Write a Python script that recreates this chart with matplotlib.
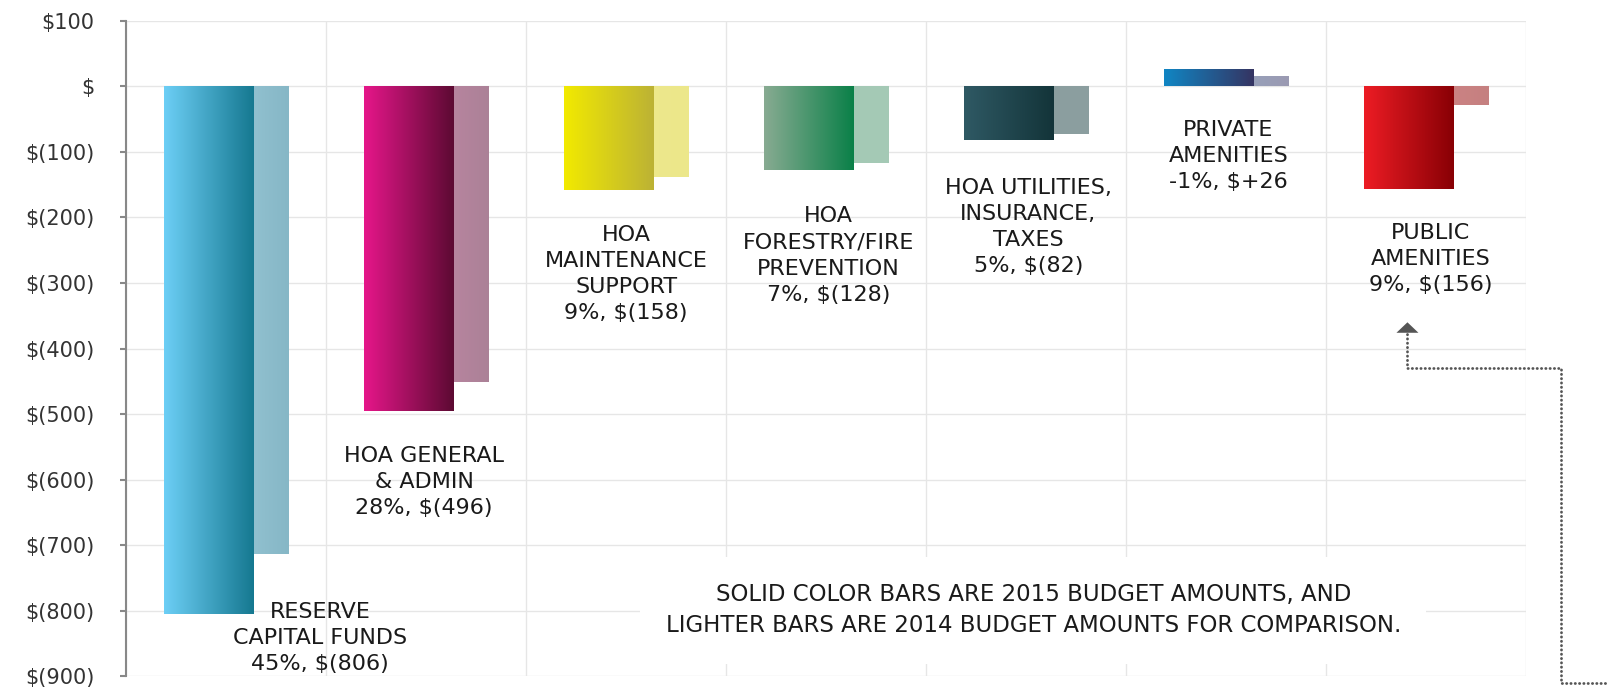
import numpy as np
import matplotlib
matplotlib.use('Agg')
import matplotlib.pyplot as plt
from matplotlib.colors import LinearSegmentedColormap
from matplotlib.patches import Rectangle, Polygon

# budget change per category, 2015 vs 2014
categories = ['RESERVE\nCAPITAL FUNDS', 'HOA GENERAL\n& ADMIN', 'HOA\nMAINTENANCE\nSUPPORT',
              'HOA\nFORESTRY/FIRE\nPREVENTION', 'HOA UTILITIES,\nINSURANCE,\nTAXES',
              'PRIVATE\nAMENITIES', 'PUBLIC\nAMENITIES']
shares = [45, 28, 9, 7, 5, -1, 9]
budget_2015 = [-806, -496, -158, -128, -82, 26, -156]
budget_2014 = [-714, -451, -138, -117, -73, 16, -29]
yticks = [100, 0, -100, -200, -300, -400, -500, -600, -700, -800, -900]
ytick_labels = ['$100', '$', '$(100)', '$(200)', '$(300)', '$(400)', '$(500)',
                '$(600)', '$(700)', '$(800)', '$(900)']

solid_cols = [('#6dcff6', '#157890'), ('#e6168a', '#5c0a32'), ('#f2ea00', '#bcb235'),
              ('#88ab92', '#0a8048'), ('#2f5964', '#133439'), ('#1086c4', '#353462'),
              ('#ed1c24', '#880005')]
light_cols = [('#a0cedd', '#86b7c6'), ('#c98aaa', '#ab8197'), ('#efea8f', '#ece78a'),
              ('#a6cbb7', '#a4c9b5'), ('#8d9fa1', '#8b9e9f'), ('#92a9c4', '#9b9ab2'),
              ('#d48688', '#c58080')]

def fmt_money(v):
    return '$+%d' % v if v > 0 else '$(%d)' % -v

fig = plt.figure(figsize=(16.07, 6.97), dpi=100)
ax = fig.add_axes([0.0784, 0.0301, 0.8715, 0.9398])

x = np.arange(len(categories))
w = 0.445
light = ax.bar(x + 0.5875, budget_2014, width=w, facecolor='none', edgecolor='none', zorder=2)
solid = ax.bar(x + 0.4125, budget_2015, width=w, facecolor='none', edgecolor='none', zorder=3)

grad = np.linspace(0, 1, 256).reshape(1, -1)
def fill_gradient(bars, cols, z):
    for p, (c0, c1) in zip(bars, cols):
        cmap = LinearSegmentedColormap.from_list('g', [c0, c1])
        x0, y0 = p.get_x(), p.get_y()
        x1, y1 = x0 + p.get_width(), y0 + p.get_height()
        im = ax.imshow(grad, cmap=cmap, aspect='auto', extent=(x0, x1, min(y0, y1), max(y0, y1)),
                       zorder=z, interpolation='bilinear')
        im.set_clip_path(p)

fill_gradient(light, light_cols, 2)
fill_gradient(solid, solid_cols, 3)

# category labels
label_pos = [(0.97, -842), (1.49, -604), (2.50, -286), (3.51, -258),
             (4.51, -214), (5.51, -106), (6.52, -264)]
for name, s, v, (lx, ly) in zip(categories, shares, budget_2015, label_pos):
    ax.text(lx, ly, '%s\n%d%%, %s' % (name, s, fmt_money(v)), ha='center', va='center',
            fontsize=16, color='#1a1a1a', linespacing=1.38, zorder=5)

# note box
ax.add_patch(Rectangle((2.57, -881), 3.93, 162, facecolor='white', edgecolor='none', zorder=1.5))
ax.text(4.535, -799, 'SOLID COLOR BARS ARE 2015 BUDGET AMOUNTS, AND\nLIGHTER BARS ARE 2014 BUDGET AMOUNTS FOR COMPARISON.',
        ha='center', va='center', fontsize=16.5, color='#1a1a1a', linespacing=1.45, zorder=5)

# dotted pointer
ax.plot([6.405, 6.405, 7.17, 7.17, 7.42], [-378, -430, -430, -911, -911], color='#555555',
        lw=2.0, linestyle=(0, (0.1, 1.45)), dash_capstyle='round', clip_on=False, zorder=5)
ax.add_patch(Polygon([(6.35, -376), (6.46, -376), (6.405, -360)], closed=True,
                     facecolor='#555555', edgecolor='none', clip_on=False, zorder=5))

ax.set_xlim(0, 7)
ax.set_ylim(-900, 100)
ax.set_xticks(np.arange(8))
ax.set_yticks(yticks)
ax.set_yticklabels(ytick_labels)
ax.set_axisbelow(True)
ax.grid(True, color='#e6e6e6', lw=1)
ax.tick_params(axis='x', length=0, labelbottom=False)
ax.tick_params(axis='y', length=4.5, width=1.5, color='#888888', pad=18,
               labelsize=15, labelcolor='#333333')
for side in ['top', 'right', 'bottom']:
    ax.spines[side].set_visible(False)
ax.spines['left'].set_color('#888888')
ax.spines['left'].set_linewidth(1.5)

fig.savefig('out.png', dpi=100)
